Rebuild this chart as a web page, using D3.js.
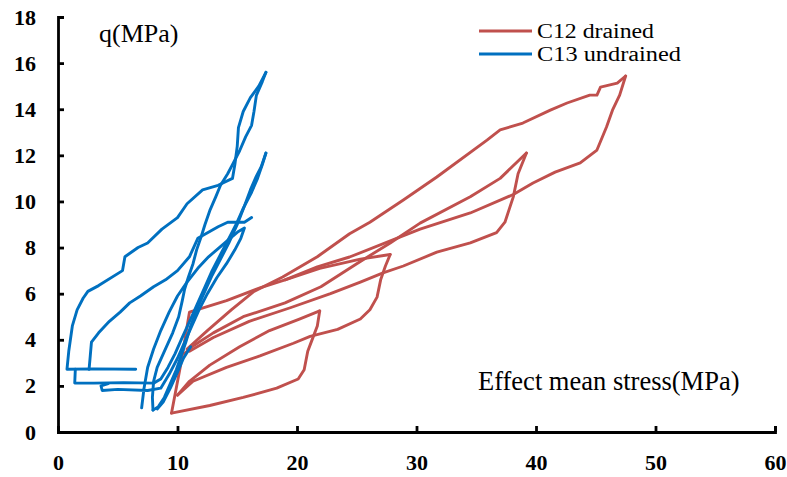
<!DOCTYPE html>
<html>
<head>
<meta charset="utf-8">
<script src="https://cdn.jsdelivr.net/npm/d3@7"></script>
<style>
  body { margin: 0; background: #fff; }
  svg text { font-family: "Liberation Serif", "Times New Roman", serif; }
</style>
</head>
<body>
<svg id="chart" width="787" height="477"></svg>
<script>
// axis ticks
const xTicks = [0, 10, 20, 30, 40, 50, 60];
const yTicks = [0, 2, 4, 6, 8, 10, 12, 14, 16, 18];

// C12 drained: branches of the stress path [p', q] (MPa)
const c12CornerToPeak2 = [[9.5,0.82],[10.3,3.0],[11.0,5.2],[14.1,5.7],[16.9,6.25],[19.0,6.6],[21.9,7.1],[25.3,7.5],[27.8,7.7]];
const c12UnloadPeak2 = [[27.8,7.7],[27.4,7.2],[27.0,6.6],[26.7,5.85],[26.1,5.3],[25.3,4.9],[23.4,4.45],[21.1,4.15],[19.7,3.85],[16.9,3.3],[14.1,2.8],[11.3,2.2],[10.0,1.6]];
const c12LoadPeak1 = [[10.0,1.6],[11.0,2.2],[12.7,2.9],[15.2,3.7],[17.7,4.4],[20.2,4.9],[21.9,5.25]];
const c12UnloadPeak1 = [[21.9,5.25],[21.7,4.6],[21.3,4.05],[20.9,3.5],[20.6,2.7],[20.1,2.3],[18.3,1.9],[15.5,1.5],[12.7,1.15],[9.5,0.82]];
const c12LoadPeak3 = [[10.6,3.4],[11.2,3.7],[13.0,4.3],[15.5,5.0],[19.0,5.6],[22.0,6.3],[25.0,7.3],[27.8,8.2],[30.3,9.06],[34.5,10.2],[37.0,11.0],[39.2,12.1]];
const c12UnloadPeak3 = [[39.2,12.1],[38.5,11.2],[38.1,10.2],[37.4,9.1],[36.7,8.65],[34.5,8.2],[31.7,7.8],[28.9,7.2],[27.2,6.9],[25.3,6.5],[22.8,6.0],[19.5,5.4],[16.0,4.8],[13.0,4.1],[11.0,3.5]];
const c12LoadPeak4 = [[10.8,3.6],[12.5,4.4],[14.5,5.3],[16.4,6.1],[18.8,6.72],[21.7,7.6],[24.4,8.6],[26.1,9.1],[28.9,10.06],[31.7,11.06],[35.9,12.66],[37.0,13.1],[38.9,13.4],[41.2,13.96],[42.6,14.27],[44.5,14.61],[45.1,14.61],[45.4,14.96],[46.8,15.13],[47.5,15.44]];
const c12UnloadPeak4 = [[47.5,15.44],[47.0,14.61],[46.4,13.96],[45.9,13.23],[45.1,12.23],[43.7,11.67],[41.6,11.27],[39.75,10.8],[38.1,10.3],[34.5,9.5],[30.3,8.8],[28.6,8.45],[24.4,7.59],[21.7,7.16],[19.0,6.6]];

// C13 undrained
const c13OuterRise = [[6.5,2.72],[3.0,2.74],[0.75,2.72],[0.9,3.5],[1.2,4.6],[1.6,5.3],[2.1,5.8],[2.5,6.1],[3.4,6.35],[5.4,7.0],[5.6,7.6],[6.7,8.0],[7.5,8.2],[8.7,8.8],[10.0,9.3],[10.8,9.9],[12.1,10.5],[13.4,10.7],[14.6,11.0],[14.8,11.6],[15.0,12.4],[15.1,13.2],[15.5,13.9],[16.1,14.5],[16.8,15.0],[17.4,15.6]];
const c13Peak1Down = [[17.4,15.6],[17.1,15.2],[16.6,14.6],[16.4,13.9],[16.2,13.3],[15.7,12.8],[15.2,12.2],[14.6,11.6],[14.2,11.2],[13.6,10.7],[13.2,10.2],[12.7,9.6],[12.3,9.0],[12.0,8.5],[11.6,7.9],[11.3,7.3],[10.9,6.7],[10.6,6.2],[10.4,5.7],[10.1,5.0],[9.6,4.3],[8.9,3.5],[8.3,2.8],[8.0,2.2],[7.9,1.5],[7.95,0.95]];
const c13Peak2Up = [[7.95,0.95],[8.4,1.1],[8.9,1.5],[9.4,2.1],[9.9,2.7],[10.3,3.3],[10.7,3.9],[11.1,4.6],[11.6,5.3],[12.2,6.0],[12.9,6.8],[13.6,7.5],[14.3,8.2],[15.0,9.0],[15.6,9.8],[16.1,10.5],[16.6,11.1],[17.0,11.5],[17.4,12.1]];
const c13Peak2Down = [[17.4,12.1],[17.1,11.6],[16.7,11.0],[16.2,10.4],[15.5,9.7],[14.9,9.0],[14.3,8.4],[13.6,7.7],[12.9,7.0],[12.3,6.3],[11.7,5.6],[11.1,4.9],[10.4,4.1],[9.8,3.4],[9.2,2.8],[8.6,2.3],[8.0,2.12],[5.5,2.14],[3.0,2.12],[1.4,2.12],[1.45,2.72]];
const c13SecondRise = [[2.6,2.72],[2.7,3.3],[2.8,3.9],[3.4,4.3],[4.3,4.8],[5.2,5.2],[6.0,5.6],[6.9,5.9],[8.0,6.3],[9.0,6.6],[10.0,7.0],[11.0,7.6],[11.7,8.4],[13.4,8.9],[14.2,9.1],[15.6,9.1],[16.2,9.3]];
const c13Peak3Loop = [[7.0,1.05],[7.2,1.9],[7.5,2.8],[8.0,3.6],[8.6,4.4],[9.3,5.2],[10.0,5.9],[10.8,6.5],[11.7,7.1],[12.6,7.6],[13.5,8.0],[14.4,8.4],[15.1,8.7],[15.6,8.85],[15.3,8.4],[14.8,7.9],[14.1,7.3],[13.3,6.7],[12.5,6.0],[11.8,5.3],[11.2,4.6],[10.6,3.9],[10.0,3.2],[9.3,2.5],[8.6,1.9],[7.5,1.8],[5.0,1.85],[3.7,1.8],[3.6,2.0],[4.2,2.1]];
const c13Peak4Spur = [[8.3,1.0],[8.8,1.3],[9.4,1.9],[10.0,2.6],[10.5,3.2],[11.1,3.7]];

const c12Branches = [c12CornerToPeak2, c12UnloadPeak2, c12LoadPeak1, c12UnloadPeak1, c12LoadPeak3, c12UnloadPeak3, c12LoadPeak4, c12UnloadPeak4];
const c13Branches = [c13OuterRise, c13Peak1Down, c13Peak2Up, c13Peak2Down, c13SecondRise, c13Peak3Loop, c13Peak4Spur];

const series = [
  { name: "C12 drained", color: "#C0504D", branches: c12Branches, textWidth: 117 },
  { name: "C13 undrained", color: "#0070C0", branches: c13Branches, textWidth: 144 }
];

const svg = d3.select("#chart");
const x = d3.scaleLinear().domain([0, 60]).range([58, 775]);
const y = d3.scaleLinear().domain([0, 18]).range([432, 17]);

const line = d3.line().x(d => x(d[0])).y(d => y(d[1]));

// curves (drawn first, axes on top)
series.forEach(s => {
  svg.append("g")
    .selectAll("path")
    .data(s.branches)
    .join("path")
    .attr("d", line)
    .attr("fill", "none")
    .attr("stroke", s.color)
    .attr("stroke-width", 2.9)
    .attr("stroke-linejoin", "round")
    .attr("stroke-linecap", "round");
});

// x axis
svg.append("g")
  .attr("transform", `translate(0,${y(0)})`)
  .call(d3.axisBottom(x).tickValues(xTicks).tickSizeInner(-6).tickSizeOuter(-6).tickPadding(22))
  .call(g => {
    g.select(".domain").attr("stroke", "#000").attr("stroke-width", 2.8);
    g.selectAll(".tick line").attr("stroke", "#000").attr("stroke-width", 2.8);
    g.selectAll(".tick text")
      .attr("fill", "#000")
      .style("font-family", "'Liberation Serif', serif")
      .style("font-weight", "bold")
      .style("font-size", "22px");
  });

// y axis
svg.append("g")
  .attr("transform", `translate(${x(0)},0)`)
  .call(d3.axisLeft(y).tickValues(yTicks).tickSizeInner(-6).tickSizeOuter(-6).tickPadding(22))
  .call(g => {
    g.select(".domain").attr("stroke", "#000").attr("stroke-width", 2.8);
    g.selectAll(".tick line").attr("stroke", "#000").attr("stroke-width", 2.8);
    g.selectAll(".tick text")
      .attr("fill", "#000")
      .style("font-family", "'Liberation Serif', serif")
      .style("font-weight", "bold")
      .style("font-size", "22px");
  });

// axis titles inside the plot
svg.append("text")
  .attr("x", 99).attr("y", 42)
  .style("font-size", "26px")
  .text("q(MPa)");

svg.append("text")
  .attr("x", 478).attr("y", 390)
  .style("font-size", "26.5px")
  .text("Effect mean stress(MPa)");

// legend
const legend = svg.append("g").attr("transform", "translate(479,31)");
legend.selectAll("g")
  .data(series)
  .join("g")
  .attr("transform", (d, i) => `translate(0,${i * 23})`)
  .each(function (d) {
    const g = d3.select(this);
    g.append("line")
      .attr("x1", 0).attr("x2", 53)
      .attr("stroke", d.color).attr("stroke-width", 3);
    g.append("text")
      .attr("x", 58).attr("y", 7)
      .attr("textLength", d.textWidth)
      .attr("lengthAdjust", "spacingAndGlyphs")
      .style("font-size", "20px")
      .text(d.name);
  });
</script>
</body>
</html>
